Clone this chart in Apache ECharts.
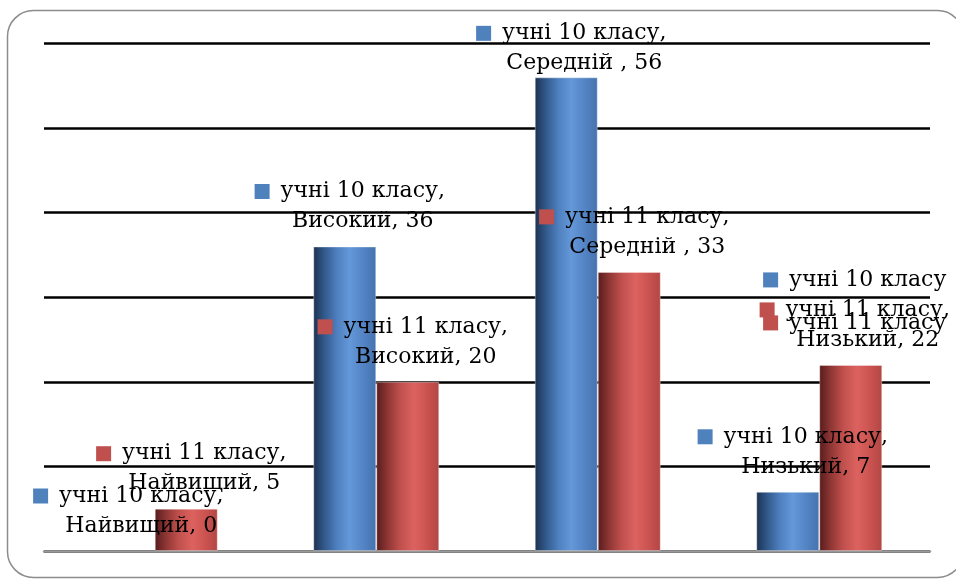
<!DOCTYPE html>
<html>
<head>
<meta charset="utf-8">
<script src="https://cdn.jsdelivr.net/npm/echarts@6/dist/echarts.min.js"></script>
<style>
html,body{margin:0;padding:0;background:#fff;}
#chart{width:956px;height:579px;}
</style>
</head>
<body>
<div id="chart"></div>
<script>
var categories = ['Найвищий', 'Високий', 'Середній ', 'Низький'];
var seriesNames = ['учні 10 класу', 'учні 11 класу'];
var class10 = [0, 36, 56, 7];
var class11 = [5, 20, 33, 22];
var yTicks = [0, 10, 20, 30, 40, 50, 60];

var FONT = '"DejaVu Serif", serif';
var BLUE = '#4f81bd';
var RED = '#c0504d';

function rich(extra) {
  var r = {
    t: {fontFamily: FONT, fontSize: 22, color: '#000', lineHeight: 30},
    sqb: {width: 15, height: 15, backgroundColor: BLUE, lineHeight: 30},
    sqr: {width: 15, height: 15, backgroundColor: RED, lineHeight: 30},
    g: {width: 11, lineHeight: 30},
    sp: {width: 26, lineHeight: 30}
  };
  if (extra) for (var k in extra) r[k] = extra[k];
  return r;
}

function stdFormatter(sq) {
  return function (p) {
    return '{' + sq + '|}{g|}{t|' + p.seriesName + ',}\n{sp|}{t|' + p.name + ', ' + p.value + '}';
  };
}

var blueGrad = new echarts.graphic.LinearGradient(0, 0, 1, 0, [
  {offset: 0, color: '#1c3150'},
  {offset: 0.18, color: '#325a8c'},
  {offset: 0.38, color: '#4f80c0'},
  {offset: 0.58, color: '#6498d8'},
  {offset: 0.8, color: '#5383c4'},
  {offset: 1, color: '#4673ae'}
]);
var redGrad = new echarts.graphic.LinearGradient(0, 0, 1, 0, [
  {offset: 0, color: '#561c1c'},
  {offset: 0.18, color: '#8e3634'},
  {offset: 0.38, color: '#c0504d'},
  {offset: 0.6, color: '#dc625f'},
  {offset: 0.82, color: '#c9524f'},
  {offset: 1, color: '#b24644'}
]);

var class10Data = class10.map(function (v, i) {
  var d = {value: v};
  if (v === 0) d.itemStyle = {borderWidth: 0};
  if (i === 2) d.label = {offset: [5, 11]};
  return d;
});

var class11Data = class11.map(function (v, i) {
  var d = {value: v};
  if (v === 0) d.itemStyle = {borderWidth: 0};
  if (i === 3) {
    d.label = {
      offset: [4, 0],
      formatter: function (p) {
        return '{sqb|}{g|}{t1|' + seriesNames[0] + '}\n' +
               '{sqr2|}{g2|}{t2|' + p.seriesName + ',}\n' +
               '{sqr3|}{g3|}{t3|' + p.seriesName + '}\n' +
               '{sp|}{t|' + p.name + ', ' + p.value + '}';
      },
      rich: rich({
        sqb: {width: 15, height: 15, backgroundColor: BLUE, lineHeight: 38},
        g: {width: 11, lineHeight: 38},
        t1: {fontFamily: FONT, fontSize: 22, color: '#000', lineHeight: 38},
        sqr2: {width: 15, height: 15, backgroundColor: RED, lineHeight: 22},
        g2: {width: 11, lineHeight: 22},
        t2: {fontFamily: FONT, fontSize: 22, color: '#000', lineHeight: 22},
        sqr3: {width: 15, height: 15, backgroundColor: RED, lineHeight: 4},
        g3: {width: 11, lineHeight: 4},
        t3: {fontFamily: FONT, fontSize: 22, color: '#000', lineHeight: 4}
      })
    };
  }
  return d;
});

var chart = echarts.init(document.getElementById('chart'), null, {renderer: 'canvas'});
chart.setOption({
  animation: false,
  backgroundColor: '#fff',
  graphic: [{
    type: 'rect',
    shape: {x: 7.5, y: 10.5, width: 956, height: 567, r: 26},
    style: {fill: 'none', stroke: '#8c8c8c', lineWidth: 1.5},
    z: -10
  }],
  grid: {left: 44, right: 26, top: 43.5, bottom: 28, containLabel: false},
  xAxis: {
    type: 'category',
    data: categories,
    axisLine: {show: true, lineStyle: {color: '#999999', width: 2.5}},
    axisTick: {show: false},
    axisLabel: {show: false},
    splitLine: {show: false}
  },
  yAxis: {
    type: 'value',
    min: yTicks[0],
    max: yTicks[yTicks.length - 1],
    interval: 10,
    axisLine: {show: false},
    axisTick: {show: false},
    axisLabel: {show: false},
    splitLine: {show: true, lineStyle: {color: '#000', width: 2.5}}
  },
  series: [
    {
      name: seriesNames[0],
      type: 'bar',
      data: class10Data,
      barWidth: 63,
      barGap: '0%',
      itemStyle: {color: blueGrad, borderColor: 'rgba(255,255,255,0.35)', borderWidth: 1},
      label: {
        show: true,
        position: 'top',
        distance: 10,
        offset: [5, 0],
        formatter: stdFormatter('sqb'),
        rich: rich()
      },
      z: 2
    },
    {
      name: seriesNames[1],
      type: 'bar',
      data: class11Data,
      barWidth: 63,
      barGap: '0%',
      itemStyle: {color: redGrad, borderColor: 'rgba(255,255,255,0.35)', borderWidth: 1},
      label: {
        show: true,
        position: 'top',
        distance: 10,
        offset: [5, 0],
        formatter: stdFormatter('sqr'),
        rich: rich()
      },
      z: 2
    }
  ]
});
</script>
</body>
</html>
